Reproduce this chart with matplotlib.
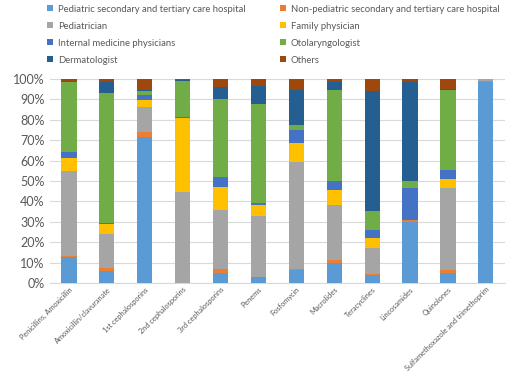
import matplotlib
matplotlib.use("Agg")
import matplotlib.pyplot as plt
import matplotlib.transforms as mtransforms
import numpy as np

plt.rcParams['font.family'] = ['Lato', 'DejaVu Sans']

# antibiotic classes along the x axis
categories = ["Penicillins, Amoxicillin", "Amoxicillin/clavuranate", "1st cephalosporins",
              "2nd cephalosporins", "3rd cephalosporins", "Penems", "Fosfomycin",
              "Macrolides", "Teracyclines", "Lincosamides", "Quinolones",
              "Sulfamethoxazole and trimethoprim"]

# share of prescriptions (%) per prescriber group
ped_hospital = [13.0, 6.1, 71.5, 0.0, 4.9, 2.9, 6.4, 10.0, 3.8, 30.1, 4.9, 98.4]
nonped_hospital = [0.3, 1.1, 2.3, 0.0, 2.0, 0.3, 0.3, 1.3, 0.5, 0.8, 1.6, 0.5]
pediatrician = [41.4, 16.7, 12.3, 44.8, 28.8, 29.9, 52.5, 27.2, 12.7, 0.0, 40.0, 1.1]
family = [6.8, 4.9, 3.6, 36.2, 11.3, 5.4, 9.4, 7.0, 5.3, 0.0, 4.7, 0.0]
internal = [2.8, 0.8, 2.3, 0.5, 5.0, 0.8, 6.2, 4.4, 3.6, 15.6, 4.0, 0.0]
otolaryngologist = [34.0, 63.5, 2.3, 17.5, 38.3, 48.4, 2.8, 44.5, 9.6, 3.4, 39.2, 0.0]
dermatologist = [0.4, 5.4, 0.5, 0.5, 5.6, 8.7, 17.2, 4.0, 58.8, 48.8, 0.7, 0.0]
others = [1.5, 1.5, 5.2, 0.5, 4.1, 3.6, 5.2, 1.6, 5.7, 1.3, 4.9, 0.0]

series = [
    ("Pediatric secondary and tertiary care hospital", ped_hospital, "#5B9BD5"),
    ("Non-pediatric secondary and tertiary care hospital", nonped_hospital, "#ED7D31"),
    ("Pediatrician", pediatrician, "#A5A5A5"),
    ("Family physician", family, "#FFC000"),
    ("Internal medicine physicians", internal, "#4472C4"),
    ("Otolaryngologist", otolaryngologist, "#70AD47"),
    ("Dermatologist", dermatologist, "#255E91"),
    ("Others", others, "#9E480E"),
]

fig = plt.figure(figsize=(5.18, 3.78), dpi=100)
ax = fig.add_axes([0.0965, 0.251, 0.878, 0.54])

x = np.arange(len(categories))
bottom = np.zeros(len(categories))
for label, vals, color in series:
    vals = np.array(vals)
    ax.bar(x, vals, bottom=bottom, width=0.4, color=color, label=label, zorder=3)
    bottom += vals

ax.set_xlim(-0.5, len(categories) - 0.5)
ax.set_ylim(0, 100)
ax.set_yticks(np.arange(0, 101, 10))
ax.set_yticklabels([f"{v}%" for v in range(0, 101, 10)], fontsize=9, color="#595959")
ax.set_xticks(x)
ax.set_xticklabels(categories, rotation=45, ha="right", rotation_mode="anchor",
                   fontsize=5.3, color="#595959")
# nudge the rotated labels right so they end near the bar centre
offset = mtransforms.ScaledTranslation(4 / 72, 0, fig.dpi_scale_trans)
for lbl in ax.get_xticklabels():
    lbl.set_transform(lbl.get_transform() + offset)
ax.tick_params(axis="x", length=0, pad=2)
ax.tick_params(axis="y", length=0, pad=4)
ax.grid(axis="y", color="#D9D9D9", linewidth=0.8, zorder=0)
for s in ["top", "right", "left"]:
    ax.spines[s].set_visible(False)
ax.spines["bottom"].set_color("#D9D9D9")

handles, labels = ax.get_legend_handles_labels()
# legend in reading order across two columns
order = [0, 2, 4, 6, 1, 3, 5, 7]
fig.legend([handles[i] for i in order], [labels[i] for i in order],
           loc="upper left", bbox_to_anchor=(0.075, 1.01), ncol=2, frameon=False,
           fontsize=6.8, labelcolor="#595959", handlelength=0.6, handleheight=0.6,
           handletextpad=0.5, columnspacing=3.7, labelspacing=0.85)

fig.savefig("out.png", dpi=100)
